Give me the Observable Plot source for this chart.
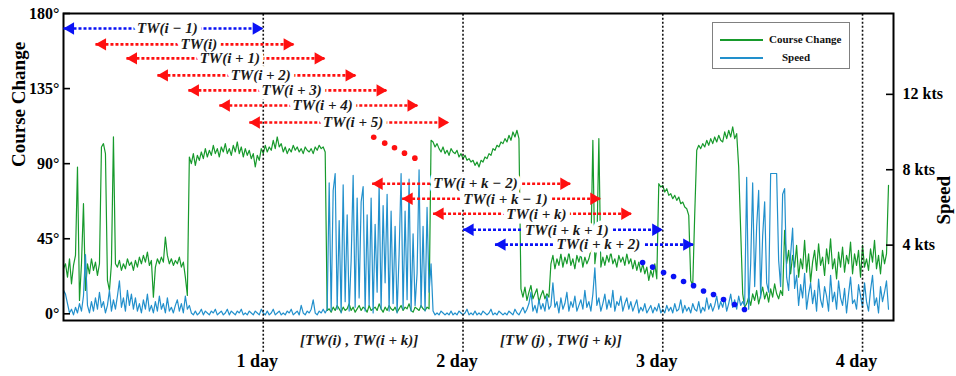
<!DOCTYPE html>
<html>
<head>
<meta charset="utf-8">
<script src="https://cdn.jsdelivr.net/npm/d3@7"></script>
<script src="https://cdn.jsdelivr.net/npm/@observablehq/plot@0.6"></script>
<style>
  html, body { margin: 0; padding: 0; background: white; }
  #wrap { position: relative; width: 956px; height: 376px; }
  #legend { position: absolute; left: 712px; top: 22px; width: 136px; height: 45px; border: 1px solid #808080; background: white;
            font-family: "Liberation Serif", serif; font-weight: bold; font-size: 11px; color: #111; }
  #legend .row { position: absolute; left: 0; height: 14px; line-height: 14px; }
  #legend .sw { position: absolute; left: 7px; width: 43px; height: 0; top: 7px; border-top: 2px solid; }
  #legend .lab { position: absolute; white-space: nowrap; }
</style>
</head>
<body>
<div id="wrap"></div>
<script>
// ---------- data ----------
const STEP_DAYS = 0.01; // sampling interval of both series (days)

// Course change (degrees), one value per STEP_DAYS
const course = [
  27,30,22,33,18,29,35,88,8,30,66,14,30,24,33,26,31,23,30,100,
  102,96,20,14,30,106,30,28,32,26,30,27,33,29,31,26,32,28,34,30,
  35,31,37,29,32,10,28,33,30,34,31,46,35,30,33,29,32,30,34,28,
  31,22,11,94,90,96,89,95,92,97,93,99,94,98,95,101,96,99,94,100,
  97,102,96,99,95,101,97,103,96,100,94,99,95,98,93,96,88,95,92,99,
  96,101,97,100,98,104,99,106,100,102,97,100,96,99,97,101,98,100,97,99,
  96,100,98,97,99,96,100,98,101,99,100,97,2,3,1,4,2,5,3,1,
  4,2,3,6,2,4,1,3,5,2,4,3,1,5,2,3,4,2,6,3,
  1,4,2,5,3,2,4,1,3,5,2,4,3,6,2,1,4,3,2,5,
  3,2,4,3,104,103,100,102,99,97,100,96,98,95,99,97,96,98,94,96,
  93,95,92,93,91,92,89,91,88,92,91,94,93,96,95,99,98,101,100,103,
  102,105,103,107,104,109,106,110,105,15,10,16,8,13,17,9,12,15,7,11,
  14,9,12,10,30,35,27,33,29,36,28,34,30,37,29,33,27,35,31,36,
  28,34,30,33,38,104,30,40,105,28,34,29,35,31,37,30,33,28,35,31,
  34,29,36,30,33,27,32,26,31,25,30,24,28,20,26,22,30,21,78,76,
  77,73,75,71,72,69,71,68,70,66,67,64,63,59,20,17,60,98,101,99,
  102,100,104,101,105,102,106,103,107,104,103,109,105,110,106,112,105,108,88,50,
  12,4,6,10,5,12,8,14,6,11,16,9,13,7,15,10,18,12,9,14,
  11,50,30,38,24,35,28,41,22,33,27,44,25,36,19,31,38,26,42,29,
  34,23,39,30,45,27,33,21,37,28,40,25,35,30,43,24,36,29,38,22,
  41,28,33,26,39,31,44,27,35,24,38,30,36,77
];

// Speed (knots), one value per STEP_DAYS
const speed = [
  1.6,1.4,0.9,0.4,0.6,0.3,0.7,0.4,0.9,0.5,1.3,3.5,0.8,0.4,1.0,0.5,1.2,0.6,1.5,0.7,
  1.0,0.4,0.8,1.6,0.5,1.1,0.6,1.3,2.1,0.7,1.2,0.5,1.6,0.8,1.4,0.6,1.2,0.5,0.9,0.4,
  1.1,0.6,1.4,0.5,0.8,0.4,1.0,0.5,1.3,0.6,0.9,0.4,1.2,0.5,0.7,0.4,0.8,1.1,0.5,0.9,
  0.4,1.3,0.6,0.8,0.4,0.3,0.5,0.3,0.4,0.6,0.3,0.5,0.4,0.3,0.5,0.4,0.6,0.3,0.4,0.5,
  0.3,0.4,0.6,0.3,0.5,0.4,0.3,0.5,0.4,0.6,0.3,0.4,0.3,0.5,0.4,0.3,0.5,0.4,0.3,0.6,
  0.4,0.3,0.5,0.3,0.4,0.6,0.3,0.4,0.5,0.3,0.4,0.3,0.5,0.4,0.6,0.3,0.4,0.5,0.3,0.8,
  0.4,0.3,0.5,0.4,0.6,1.1,0.4,0.3,0.5,0.4,0.6,0.4,0.6,7.3,0.5,6.9,7.8,0.6,5.3,0.4,
  7.2,1.0,5.6,0.5,3.2,7.7,0.7,6.5,1.2,6.3,7.1,0.5,5.6,0.8,6.5,0.4,5.1,1.5,7.2,0.6,
  6.1,2.0,6.7,0.5,5.8,0.9,5.0,0.4,3.5,7.8,0.6,5.8,1.1,7.5,0.5,4.6,0.8,2.5,8.0,0.7,
  5.0,0.5,6.0,1.5,3.0,0.5,0.3,0.4,0.3,0.5,0.4,0.3,0.4,0.3,0.5,0.3,0.4,0.3,0.5,0.4,
  0.3,0.4,0.6,0.3,0.4,0.3,0.5,0.3,0.4,0.3,0.5,0.4,0.3,0.4,0.6,0.3,0.4,0.3,0.5,0.4,
  0.3,0.4,0.3,0.5,0.4,0.3,0.6,0.4,0.3,0.5,0.7,0.4,0.6,0.9,1.5,0.5,0.8,0.4,1.1,0.6,
  0.9,0.5,1.3,0.6,0.8,2.0,0.7,1.0,0.4,1.2,0.6,0.9,1.5,0.5,1.0,0.7,1.3,0.5,0.8,1.1,
  0.6,1.6,0.7,1.0,0.5,1.4,2.8,0.8,1.2,0.5,0.9,1.4,0.6,1.1,0.7,1.6,0.5,1.0,0.8,1.3,
  0.5,0.9,1.2,0.6,1.0,0.5,0.8,1.1,0.4,0.7,0.5,0.9,0.4,0.6,0.8,0.4,0.7,0.5,0.9,0.4,
  0.6,0.4,0.8,0.5,0.7,0.4,0.9,0.5,0.6,1.1,0.4,0.8,0.5,0.7,0.4,0.9,0.6,0.5,1.0,0.4,
  0.7,0.5,1.2,0.6,0.9,0.5,0.8,1.3,0.6,1.0,0.7,1.2,0.5,0.9,1.4,0.7,1.1,0.6,1.3,0.8,
  1.0,0.8,7.6,0.6,3.0,7.3,1.8,5.0,6.9,1.2,4.5,6.3,2.0,1.5,7.8,7.8,7.8,7.8,3.2,1.8,
  6.7,7.0,2.3,1.6,3.5,4.9,1.7,2.4,0.8,1.9,1.2,2.5,0.6,1.4,2.0,0.9,1.6,0.5,2.2,1.1,
  0.7,1.8,1.3,0.5,2.4,1.0,1.5,0.6,2.1,1.2,0.8,1.7,0.4,1.4,2.3,0.9,1.1,0.6,1.9,1.3,
  0.7,2.0,1.0,0.5,1.6,2.4,0.8,1.2,0.4,1.8,1.0,1.5,2.1,0.6
];

// axes
const courseTicks = [0, 45, 90, 135, 180];
const speedTicks = [4, 8, 12];
const dayTicks = [1, 2, 3, 4];
const COURSE_DOMAIN = [-4, 180];
const SPEED_AT_TOP = 16.29;   // knots at the top of the frame (0 kts at the bottom)
const DAY_DOMAIN = [0, 4.155];

// sliding time windows (start/end in days, level in degrees of the left axis)
const windowLabels = ["TW(i − 1)", "TW(i)", "TW(i + 1)", "TW(i + 2)", "TW(i + 3)", "TW(i + 4)", "TW(i + 5)",
                      "TW(i + k − 2)", "TW(i + k − 1)", "TW(i + k)", "TW(i + k + 1)", "TW(i + k + 2)"];
const windowStart = [0, 0.16, 0.315, 0.47, 0.625, 0.78, 0.93, 1.545, 1.695, 1.85, 2.0, 2.16];
const windowEnd   = [1.0, 1.155, 1.31, 1.465, 1.62, 1.775, 1.93, 2.54, 2.69, 2.845, 3.0, 3.155];
const windowLevel = [171.0, 161.5, 153.1, 142.9, 133.9, 124.9, 114.7, 78.0, 69.0, 60.0, 50.4, 41.5];
const windowColor = ["#0a12f5", "#ff1010", "#ff1010", "#ff1010", "#ff1010", "#ff1010", "#ff1010",
                     "#ff1010", "#ff1010", "#ff1010", "#0a12f5", "#0a12f5"];

// ellipsis dots
const redDotDays = [1.553, 1.608, 1.657, 1.707, 1.759];
const redDotDeg  = [105.8, 102.3, 99.5, 96.3, 93.3];
const blueDotDays = [2.899, 2.949, 3.004, 3.054, 3.104, 3.154, 3.204, 3.254, 3.304, 3.359, 3.409];
const blueDotDeg  = [30.8, 28.0, 24.8, 22.4, 19.4, 16.9, 13.7, 11.6, 8.6, 5.6, 2.6];

// interval annotations under the axis
const intervalLabels = ["[TW(i) , TW(i + k)]", "[TW (j) , TW(j + k)]"];
const intervalDays = [1.48, 2.49];
const intervalDeg = -16;
const dayLineBottom = -23;

// ---------- build ----------
const kt2deg = k => COURSE_DOMAIN[0] + k * (COURSE_DOMAIN[1] - COURSE_DOMAIN[0]) / SPEED_AT_TOP;

const windows = windowLabels.map((label, i) => ({
  label, start: windowStart[i], end: windowEnd[i], level: windowLevel[i], color: windowColor[i]
}));
const redDots = redDotDays.map((d, i) => ({day: d, deg: redDotDeg[i]}));
const blueDots = blueDotDays.map((d, i) => ({day: d, deg: blueDotDeg[i]}));
const intervals = intervalLabels.map((t, i) => ({text: t, day: intervalDays[i]}));
const speedTickPos = speedTicks.map(kt2deg);

const SERIF = "'Liberation Serif', 'Times New Roman', serif";
const GREEN = "#179a2c";
const BLUE = "#2290cc";

const chart = Plot.plot({
  width: 956,
  height: 376,
  marginLeft: 63,
  marginRight: 63,
  marginTop: 13,
  marginBottom: 56,
  style: {fontFamily: SERIF, background: "white", color: "black", overflow: "visible"},
  x: {domain: DAY_DOMAIN},
  y: {domain: COURSE_DOMAIN},
  color: {type: "identity"},
  marks: [
    // series
    Plot.line(course, {x: (d, i) => i * STEP_DAYS, y: d => d, stroke: GREEN, strokeWidth: 1.2}),
    Plot.line(speed, {x: (d, i) => i * STEP_DAYS, y: d => kt2deg(d), stroke: BLUE, strokeWidth: 1.2}),
    // day separators
    Plot.ruleX(dayTicks, {x: d => d, y1: dayLineBottom, y2: COURSE_DOMAIN[1], stroke: "#111", strokeWidth: 1.6, strokeDasharray: "2,2"}),
    // frame + inward ticks
    Plot.frame({stroke: "black", strokeWidth: 2}),
    Plot.tickY(courseTicks, {y: d => d, insetRight: 823, stroke: "black", strokeWidth: 1.6}),
    Plot.tickY(speedTickPos, {y: d => d, insetLeft: 823, stroke: "black", strokeWidth: 1.6}),
    // axes labels
    Plot.axisY({ticks: courseTicks, tickFormat: d => d + "°", tickSize: 0, tickPadding: 4, label: null,
                fontSize: 16, fontWeight: "bold", fontFamily: SERIF}),
    Plot.axisY({anchor: "right", ticks: speedTickPos, tickFormat: d => speedTicks[speedTickPos.indexOf(d)] + " kts",
                tickSize: 0, tickPadding: 9, label: null, fontSize: 16, fontWeight: "bold", fontFamily: SERIF}),
    Plot.axisX({ticks: dayTicks, tickFormat: d => d + " day", tickSize: 0, tickPadding: 34, label: null,
                fontSize: 18, fontWeight: "bold", fontFamily: SERIF, dx: -6}),
    Plot.text(["Course Change"], {frameAnchor: "left", dx: -45, rotate: -90, fontSize: 19, fontWeight: "bold", fontFamily: SERIF, fill: "black"}),
    Plot.text(["Speed"], {frameAnchor: "right", dx: 50, dy: 9, rotate: -90, fontSize: 19, fontWeight: "bold", fontFamily: SERIF, fill: "black"}),
    // time-window arrows
    Plot.link(windows, {x1: "start", x2: "end", y1: "level", y2: "level", stroke: "color", strokeWidth: 2.6, strokeDasharray: "3,2"}),
    Plot.dot(windows, {x: "end", y: "level", symbol: "triangle", rotate: 90, r: 4.6, fill: "color", stroke: "none", dx: -7}),
    Plot.dot(windows, {x: "start", y: "level", symbol: "triangle", rotate: -90, r: 4.6, fill: "color", stroke: "none", dx: 7}),
    Plot.text(windows, {x: d => (d.start + d.end) / 2, y: "level", text: "label", dx: 4, fontSize: 15, fontWeight: "bold",
                        fontStyle: "italic", fontFamily: SERIF, fill: "white", stroke: "white", strokeWidth: 9,
                        strokeLinejoin: "round"}),
    Plot.text(windows, {x: d => (d.start + d.end) / 2, y: "level", text: "label", dx: 4, fontSize: 15, fontWeight: "bold",
                        fontStyle: "italic", fontFamily: SERIF, fill: "#1a1a1a"}),
    // ellipsis dots
    Plot.dot(redDots, {x: "day", y: "deg", r: 2.8, fill: "#ff1010", stroke: "none"}),
    Plot.dot(blueDots, {x: "day", y: "deg", r: 2.8, fill: "#0a12f5", stroke: "none"}),
    // interval annotations
    Plot.text(intervals, {x: "day", y: () => intervalDeg, text: "text", fontSize: 15, fontWeight: "bold", fontStyle: "italic",
                          fontFamily: SERIF, fill: "#1a1a1a"})
  ]
});

const wrap = document.getElementById("wrap");
wrap.appendChild(chart);

// legend (inside the plot frame, top right)
const legend = document.createElement("div");
legend.id = "legend";
const legendItems = [
  {label: "Course Change", color: GREEN, top: 9, textLeft: 56},
  {label: "Speed", color: BLUE, top: 27, textLeft: 69}
];
for (const it of legendItems) {
  const row = document.createElement("div");
  row.className = "row";
  row.style.top = it.top + "px";
  row.style.width = "136px";
  const sw = document.createElement("div");
  sw.className = "sw";
  sw.style.borderTopColor = it.color;
  const lab = document.createElement("div");
  lab.className = "lab";
  lab.style.left = it.textLeft + "px";
  lab.textContent = it.label;
  row.appendChild(sw);
  row.appendChild(lab);
  legend.appendChild(row);
}
wrap.appendChild(legend);
</script>
</body>
</html>
